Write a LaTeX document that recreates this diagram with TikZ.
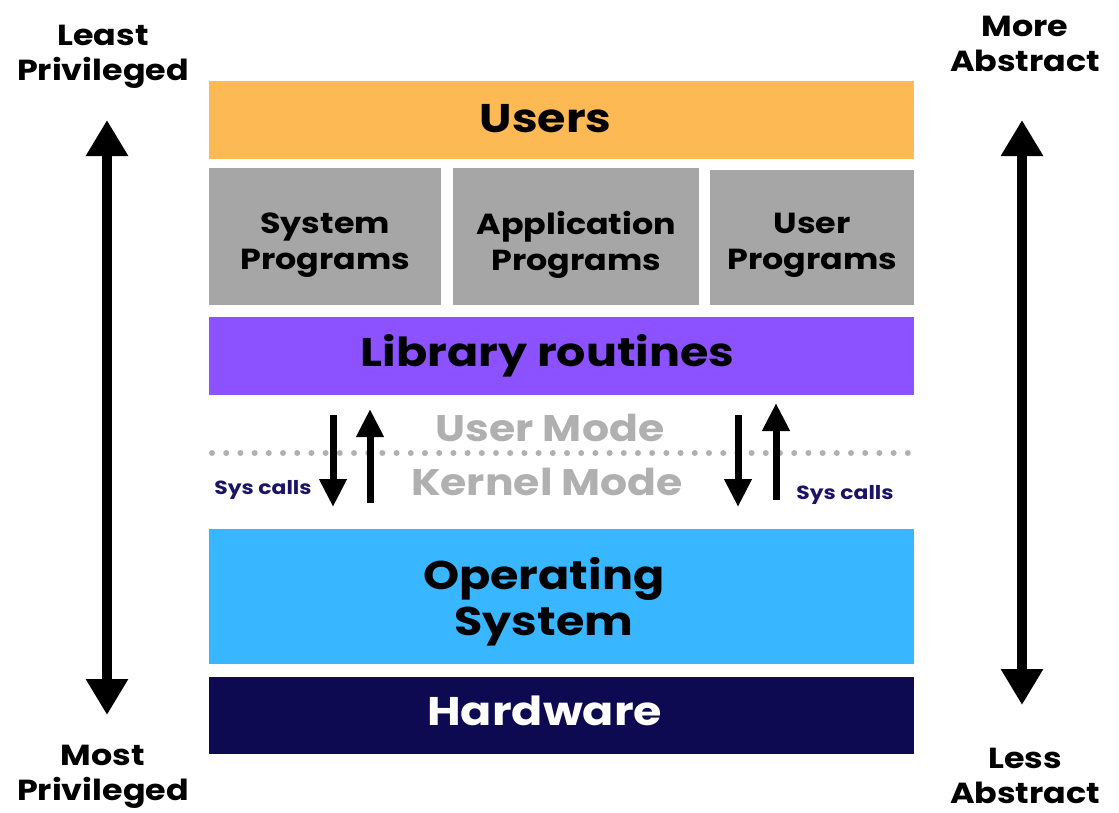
\documentclass[tikz,border=0pt]{standalone}
\usepackage{fontspec}
\setmainfont{Poppins}[FakeStretch=1.15]
\usetikzlibrary{arrows.meta,positioning}
\definecolor{usersorange}{HTML}{FDB954}
\definecolor{progsgray}{HTML}{A6A6A6}
\definecolor{libpurple}{HTML}{8C52FF}
\definecolor{osblue}{HTML}{38B6FF}
\definecolor{hwnavy}{HTML}{0D0A52}
\definecolor{modegray}{HTML}{B0B0B0}
\definecolor{callnavy}{HTML}{1B1464}
\tikzset{
  layer/.style={rectangle,inner sep=0pt,minimum width=705pt,anchor=north west},
  layertext/.style={align=center,font=\fontsize{40}{46}\selectfont\bfseries},
  prog/.style={rectangle,inner sep=0pt,fill=progsgray,anchor=north west},
  progtext/.style={align=center,font=\fontsize{29}{36}\selectfont\bfseries},
  side/.style={align=center,font=\fontsize{29}{35}\selectfont\bfseries},
  mode/.style={text=modegray,font=\fontsize{37}{40}\selectfont\bfseries},
  syscall/.style={text=callnavy,font=\fontsize{19}{22}\selectfont\bfseries},
  bigarr/.style={{Triangle[width=40pt,length=36pt]}-{Triangle[width=40pt,length=36pt]},line width=10pt},
  callarr/.style={-{Triangle[width=26pt,length=28pt]},line width=7pt},
  dots/.style={modegray,line width=6pt,line cap=round,dash pattern=on 0pt off 14.2pt},
}

\begin{document}
\begin{tikzpicture}[x=1pt,y=-1pt]
  \useasboundingbox (0,0) rectangle (1119,812);

  % layers
  \node[layer,fill=usersorange,minimum height=78pt] (users) at (209,81) {};
  \node[prog,minimum width=232pt,minimum height=137pt] (sysprog) at (209,168) {};
  \node[prog,minimum width=246pt,minimum height=137pt] (appprog) at (453,168) {};
  \node[prog,minimum width=204pt,minimum height=135pt] (userprog) at (710,170) {};
  \node[layer,fill=libpurple,minimum height=78pt] (lib) at (209,317) {};
  \node[layer,fill=osblue,minimum height=135pt] (os) at (209,529) {};
  \node[layer,fill=hwnavy,minimum height=77pt] (hw) at (209,677) {};

  \node[layertext] (userstxt) at ([xshift=-16,yshift=2]users.center) {Users};
  \node[progtext] (sysprogtxt) at ([yshift=-8]sysprog.center) {System\\Programs};
  \node[progtext] (appprogtxt) at ([yshift=-8]appprog.center) {Application\\Programs};
  \node[progtext] (userprogtxt) at ([yshift=-8]userprog.center) {User\\Programs};
  \node[layertext] (libtxt) at ([xshift=-14]lib.center) {Library routines};
  \node[layertext] (ostxt) at ([xshift=-18,yshift=-5]os.center) {Operating\\System};
  \node[layertext,text=white] (hwtxt) at ([xshift=-17,yshift=5]hw.center) {Hardware};

  % user / kernel boundary
  \coordinate (dotl) at (212,453);
  \coordinate (dotr) at (912,453);
  \draw[dots] (dotl) -- (dotr);
  \node[mode] (umode) at (550,428) {User Mode};
  \node[mode] (kmode) at (547,482) {Kernel Mode};

  % sys calls
  \coordinate (ldtop) at (333,415);  \coordinate (ldbot) at (333,507);
  \coordinate (lubot) at (370,503);  \coordinate (lutop) at (370,409);
  \coordinate (rdtop) at (738,415);  \coordinate (rdbot) at (738,507);
  \coordinate (rubot) at (776,500);  \coordinate (rutop) at (776,403);
  \draw[callarr] (ldtop) -- (ldbot);
  \draw[callarr] (lubot) -- (lutop);
  \draw[callarr] (rdtop) -- (rdbot);
  \draw[callarr] (rubot) -- (rutop);
  \node[syscall] (lcall) at (263,490) {Sys calls};
  \node[syscall] (rcall) at (845,495) {Sys calls};

  % privilege / abstraction
  \node[side] (least) at (103,57) {Least\\Privileged};
  \node[side] (most) at (103,777) {Most\\Privileged};
  \node[side] (more) at (1025,44) {More\\Abstract};
  \node[side] (less) at (1025,776) {Less\\Abstract};
  \coordinate (privtop) at (107,120);  \coordinate (privbot) at (107,715);
  \coordinate (abstop) at (1022,120);  \coordinate (absbot) at (1022,705);
  \draw[bigarr] (privbot) -- (privtop);
  \draw[bigarr] (absbot) -- (abstop);

\end{tikzpicture}
\end{document}
